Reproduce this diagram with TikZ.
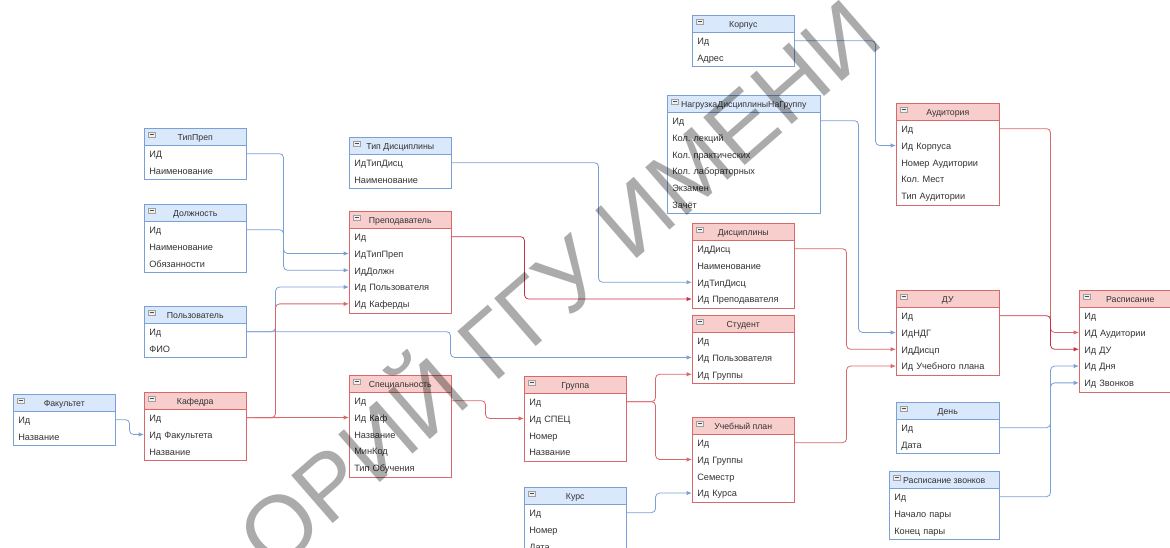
\documentclass[tikz,border=0pt]{standalone}
\usepackage{fontspec}
\setmainfont{Liberation Sans}
\newfontfamily\wmfont{Liberation Sans}
\usetikzlibrary{arrows.meta}
\frenchspacing
\definecolor{bhead}{HTML}{DAE8FC}
\definecolor{bline}{HTML}{7C9FD6}
\definecolor{rhead}{HTML}{F8CECC}
\definecolor{rline}{HTML}{D9686B}
\definecolor{dline}{HTML}{C8304A}
\definecolor{txt}{HTML}{333333}
\tikzset{
  hdrb/.style={fill=bhead, draw=bline, line width=0.6pt},
  hdrr/.style={fill=rhead, draw=rline, line width=0.6pt},
  boxb/.style={draw=bline, line width=0.6pt},
  boxr/.style={draw=rline, line width=0.6pt},
  rowtxt/.style={inner xsep=3.75pt, inner ysep=0pt, minimum height=12.6pt, align=left,
    text height=6.6pt, text depth=0.8pt,
    font=\fontsize{6.9}{8}\selectfont, text=txt},
  ttl/.style={font=\fontsize{6.55}{8}\selectfont, text=txt, inner sep=0pt, minimum height=12.75pt,
    text height=6.5pt, text depth=0.8pt},
  icn/.style={draw=gray!75, fill=gray!12, line width=0.4pt},
  icnbar/.style={draw=gray!60!black, line width=0.6pt},
  conn/.style={line width=0.6pt, rounded corners=3pt, -{Latex[length=4pt,width=3.2pt]}},
  lnb/.style={conn, draw=bline},
  lnr/.style={conn, draw=rline},
  lnd/.style={conn, draw=dline},
  wmark/.style={rotate=41, text=black, opacity=0.33, inner sep=0pt,
    font=\wmfont\fontsize{69}{70}\selectfont},
}
% name, x, y, width, colour (b/r), title, number of rows, rows
\newcommand{\ertable}[8]{%
  \pgfmathsetmacro\erw{#4*0.75}%
  \pgfmathsetmacro\ertw{(#4-10)*0.75}%
  \path[hdr#5] (#2,#3) rectangle ++(#4,17);
  \node[ttl, minimum width=\erw pt, anchor=north west] (#1-h) at (#2,#3) {#6};
  \draw[icn] (#2+4,#3+4) rectangle ++(7,5.5);
  \draw[icnbar] (#2+5.5,#3+6.75) -- ++(4,0);
  \foreach \r [count=\i] in {#8} {
    \node[rowtxt, text width=\ertw pt, anchor=north west] (#1-\i) at (#2,{#3+17+16.8*(\i-1)}) {\r};
  }
  \draw[box#5] (#2,#3) rectangle ++(#4,{17+16.8*#7+1});
}
\begin{document}
\begin{tikzpicture}[x=0.75pt,y=-0.75pt]
\useasboundingbox (0,0) rectangle (1170,548);
\clip (0,0) rectangle (1170,548);

\ertable{tp}{144}{128}{102}{b}{ТипПреп}{2}{ИД,Наименование}
\ertable{dol}{144}{204}{102}{b}{Должность}{3}{Ид,Наименование,Обязанности}
\ertable{pol}{144}{306}{102}{b}{Пользователь}{2}{Ид,ФИО}
\ertable{fak}{13}{394}{102}{b}{Факультет}{2}{Ид,Название}
\ertable{kaf}{144}{392}{102}{r}{Кафедра}{3}{Ид,Ид Факультета,Название}
\ertable{td}{349}{137}{102}{b}{Тип Дисциплины}{2}{ИдТипДисц,Наименование}
\ertable{prep}{349}{211}{102}{r}{Преподаватель}{5}{Ид,ИдТипПреп,ИдДолжн,Ид Пользователя,Ид Каферды}
\ertable{spec}{349}{375}{102}{r}{Специальность}{5}{Ид,Ид Каф,Название,МинКод,Тип Обучения}
\ertable{gr}{524}{376}{102}{r}{Группа}{4}{Ид,Ид СПЕЦ,Номер,Название}
\ertable{kurs}{524}{487}{102}{b}{Курс}{3}{Ид,Номер,Дата}
\ertable{korp}{692}{15}{102}{b}{Корпус}{2}{Ид,Адрес}
\ertable{nag}{667}{95}{153}{b}{НагрузкаДисциплиныНаГруппу}{6}{Ид,Кол. лекций,Кол. практических,Кол. лабораторных,Экзамен,Зачёт}
\ertable{dis}{692}{223}{102}{r}{Дисциплины}{4}{ИдДисц,Наименование,ИдТипДисц,Ид Преподавателя}
\ertable{stud}{692}{315}{102}{r}{Студент}{3}{Ид,Ид Пользователя,Ид Группы}
\ertable{up}{692}{417}{102}{r}{Учебный план}{4}{Ид,Ид Группы,Семестр,Ид Курса}
\ertable{aud}{896}{103}{103}{r}{Аудитория}{5}{Ид,Ид Корпуса,Номер Аудитории,Кол. Мест,Тип Аудитории}
\ertable{du}{896}{290}{103}{r}{ДУ}{4}{Ид,ИдНДГ,ИдДисцп,Ид Учебного плана}
\ertable{ras}{1079}{290}{102}{r}{Расписание}{5}{Ид,ИД Аудитории,Ид ДУ,Ид Дня,Ид Звонков}
\ertable{den}{896}{402}{103}{b}{День}{2}{Ид,Дата}
\ertable{zv}{889}{471}{110}{b}{Расписание звонков}{3}{Ид,Начало пары,Конец пары}

% connectors
\draw[lnb] (tp-1.east) -- ++(37,0) |- (prep-2.west);
\draw[lnb] (dol-1.east) -- ++(37,0) |- (prep-3.west);
\draw[lnb] (pol-1.east) -- ++(29,0) |- (prep-4.west);
\draw[lnb] (pol-1.east) -- ++(204,0) |- (stud-2.west);
\draw[lnr] (kaf-1.east) -- ++(29,0) |- (prep-5.west);
\draw[lnr] (kaf-1.east) -- (spec-2.west);
\draw[lnb] (fak-1.east) -- ++(14,0) |- (kaf-2.west);
\draw[lnr] (spec-1.east) -- ++(34,0) |- (gr-2.west);
\draw[lnr] (gr-1.east) -- ++(29,0) |- (stud-3.west);
\draw[lnr] (gr-1.east) -- ++(29,0) |- (up-2.west);
\draw[lnb] (kurs-1.east) -- ++(29,0) |- (up-4.west);
\draw[lnb] (td-1.east) -- ++(147,0) |- (dis-3.west);
\draw[lnd] (prep-1.east) -- ++(73,0) |- (dis-4.west);
\draw[lnb] (nag-1.east) -- ++(38,0) |- (du-2.west);
\draw[lnb] (korp-1.east) -- ++(81,0) |- (aud-2.west);
\draw[lnr] (dis-1.east) -- ++(52,0) |- (du-3.west);
\draw[lnr] (up-1.east) -- ++(52,0) |- (du-4.west);
\draw[lnr] (aud-1.east) -- ++(51,0) |- (ras-2.west);
\draw[lnd] (du-1.east) -- ++(51,0) |- (ras-3.west);
\draw[lnb] (den-1.east) -- ++(51,0) |- (ras-4.west);
\draw[lnb] (zv-1.east) -- ++(51,0) |- (ras-5.west);

% watermark
\node[wmark] (wm) at (553,278) {ОРИЙ ГГУ ИМЕНИ};
\end{tikzpicture}
\end{document}
